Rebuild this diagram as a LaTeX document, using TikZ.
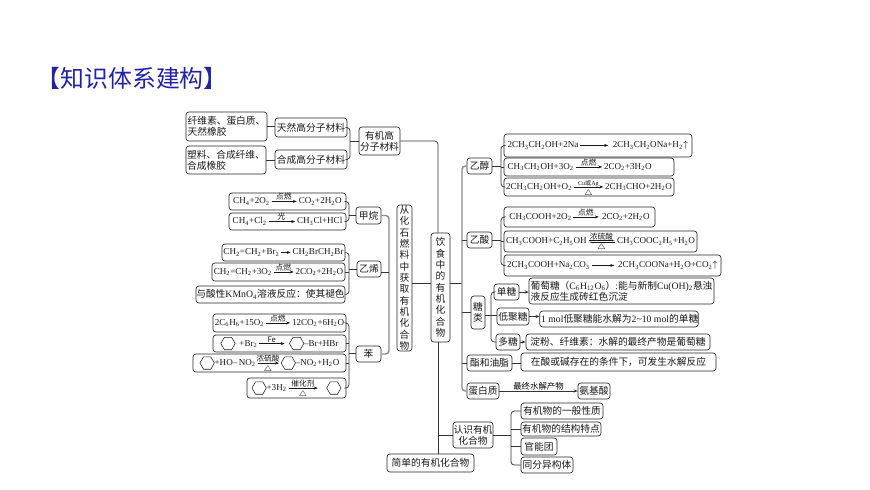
\documentclass[tikz,border=0pt]{standalone}
\usepackage{fontspec}
\setmainfont{Liberation Serif}
\newfontfamily\cjk{Noto Sans CJK SC}
\usetikzlibrary{arrows.meta}
\newcommand{\dn}[1]{\textsubscript{#1}}
\newcommand{\tri}{$\triangle$}
\newcommand{\lblfont}{\fontsize{5.8}{6}\selectfont\cjk}
% reaction arrow: length, text above, text below
\newcommand{\rxn}[3]{\hspace{1.2pt}\rlap{\hbox to #1pt{\hss\raisebox{3pt}[0pt][0pt]{\lblfont #2}\hss}}\rlap{\hbox to #1pt{\hss\raisebox{-4.3pt}[0pt][0pt]{\lblfont #3}\hss}}\tikz[baseline=-1.8pt]\draw[sharp corners,line width=.4pt,-{Stealth[length=3pt,width=2.2pt]}] (0pt,0pt) -- (#1pt,0pt);\hspace{1.2pt}}
\newcommand{\rvs}[3]{\hspace{1.2pt}\rlap{\hbox to #1pt{\hss\raisebox{3.2pt}[0pt][0pt]{\lblfont #2}\hss}}\rlap{\hbox to #1pt{\hss\raisebox{-4.6pt}[0pt][0pt]{\lblfont #3}\hss}}\tikz[baseline=-1.8pt]{\draw[sharp corners,line width=.4pt,-{Stealth[harpoon,length=3pt,width=2pt]}] (0pt,.5pt) -- (#1pt,.5pt);\draw[sharp corners,line width=.4pt,-{Stealth[harpoon,length=3pt,width=2pt]}] (#1pt,-.5pt) -- (0pt,-.5pt);}\hspace{1.2pt}}
\newcommand{\benz}{\tikz[baseline=-0.6ex]\draw[sharp corners,line width=.4pt] (0:5.4pt) -- (60:5.4pt) -- (120:5.4pt) -- (180:5.4pt) -- (240:5.4pt) -- (300:5.4pt) -- cycle;}
\definecolor{titleblue}{HTML}{2222A8}
\tikzset{
  x=.75pt, y=-.75pt,
  bx/.style 2 args={draw=black!85, line width=.5pt, rounded corners=2.2pt, inner sep=0pt, align=center,
    text=black!90, minimum width=#1*.75pt, minimum height=#2*.75pt,
    font=\cjk\fontsize{7.3}{8.5}\selectfont},
  eq/.style={font=\rmfamily\fontsize{6.8}{8.5}\selectfont},
  link/.style={draw=black!80, line width=.55pt, rounded corners=2.5pt},
  barline/.style={draw=black!45, line width=1.1pt, rounded corners=2.5pt},
  arr/.style={link, -{Stealth[length=3pt,width=2.4pt]}}
}
\begin{document}
\begin{tikzpicture}
\useasboundingbox (0,0) rectangle (870,489);
\node[anchor=west, inner sep=0pt, text=titleblue, font=\cjk\fontsize{17.9}{19}\selectfont] (title) at (36.4,78) {【知识体系建构】};
% upper left
\node[bx={81}{29},align=left] (xianwei) at (226.5,126.5) {纤维素、蛋白质、\\天然橡胶};
\node[bx={80}{28},align=left] (suliao) at (226,160) {塑料、合成纤维、\\合成橡胶};
\node[bx={72}{19}] (tianran) at (311,127.5) {天然高分子材料};
\node[bx={72}{19}] (hecheng) at (311,159.5) {合成高分子材料};
\node[bx={41}{28}] (youji) at (379.5,141) {有机高\\分子材料};
% centre
\node[bx={19}{109}] (yinshi) at (440.5,287.5) {饮\\食\\中\\的\\有\\机\\化\\合\\物};
\node[bx={15}{146}] (congh) at (404.5,278) {从\\化\\石\\燃\\料\\中\\获\\取\\有\\机\\化\\合\\物};
\node[bx={87}{18}] (jiandan) at (430.5,463) {简单的有机化合物};
\node[bx={40}{26}] (renshi) at (473,435) {认识有机\\化合物};
% hydrocarbons
\node[bx={25}{17}] (jiawan) at (368.5,215.5) {甲烷};
\node[bx={24}{16}] (yixi) at (369,269) {乙烯};
\node[bx={25}{16}] (ben) at (368.5,354) {苯};
\node[bx={117}{17},eq] (cc1) at (287.5,201.5) {CH\dn{4}+2O\dn{2}\rxn{19}{点燃}{}CO\dn{2}+2H\dn{2}O};
\node[bx={117}{17},eq] (cc2) at (287.5,221.5) {CH\dn{4}+Cl\dn{2}\rxn{20}{光}{}CH\dn{3}Cl+HCl};
\node[bx={123}{17},eq] (dd1) at (283.5,252.5) {CH\dn{2}=CH\dn{2}+Br\dn{2}\rxn{7}{}{}CH\dn{2}BrCH\dn{2}Br};
\node[bx={133}{18},eq] (dd2) at (278.5,272) {CH\dn{2}=CH\dn{2}+3O\dn{2}\rxn{15}{点燃}{}2CO\dn{2}+2H\dn{2}O};
\node[bx={149}{17}] (dd3) at (270.5,294.5) {与酸性{\rmfamily KMnO\dn{4}}溶液反应：使其褪色};
\node[bx={133}{18},eq] (ee1) at (279.5,323) {2C\dn{6}H\dn{6}+15O\dn{2}\rxn{18}{点燃}{}12CO\dn{2}+6H\dn{2}O};
\node[bx={133}{17},eq] (ee2) at (279.5,343.5) {\benz\hspace{3pt}+Br\dn{2}\rxn{19}{Fe}{}\hspace{2pt}\benz{}--Br+HBr};
\node[bx={153}{18},eq] (ee3) at (269.5,363) {\benz+HO--\,NO\dn{2}\rxn{16}{浓硫酸}{\tri}\benz{}--NO\dn{2}+H\dn{2}O};
\node[bx={99}{20},eq] (ee4) at (296.5,388) {\benz+3H\dn{2}\rxn{22}{催化剂}{\tri}\hspace{5pt}\benz};
% right branches
\node[bx={25}{16}] (yichun) at (479.5,166) {乙醇};
\node[bx={25}{16}] (yisuan) at (479.5,240) {乙酸};
\node[bx={14}{33}] (tanglei) at (478,312.5) {糖\\类};
\node[bx={45}{16}] (zhi) at (489.5,363) {酯和油脂};
\node[bx={32}{16}] (danbai) at (483,391) {蛋白质};
\node[bx={32}{16}] (anji) at (594,391) {氨基酸};
\node[bx={188}{23},eq] (aa1) at (598,145.5) {2CH\dn{3}CH\dn{2}OH+2Na\rxn{21}{}{}\hspace{2pt}2CH\dn{3}CH\dn{2}ONa+H\dn{2}$\uparrow$};
\node[bx={170}{18},eq] (aa2) at (589,167) {CH\dn{3}CH\dn{2}OH+3O\dn{2}\rxn{20}{点燃}{}2CO\dn{2}+3H\dn{2}O\hspace*{14pt}};
\node[bx={170}{18},eq] (aa3) at (589,187) {2CH\dn{3}CH\dn{2}OH+O\dn{2}\rxn{22}{{\fontsize{4.6}{5}\selectfont\rmfamily Cu\cjk 或\rmfamily Ag}}{\tri}2CH\dn{3}CHO+2H\dn{2}O};
\node[bx={151}{20},eq] (bb1) at (579.5,217) {CH\dn{3}COOH+2O\dn{2}\rxn{19}{点燃}{}\hspace{1pt}2CO\dn{2}+2H\dn{2}O};
\node[bx={193}{21},eq] (bb2) at (600.5,241.5) {CH\dn{3}COOH+C\dn{2}H\dn{5}OH\rvs{20}{浓硫酸}{\tri}CH\dn{3}COOC\dn{2}H\dn{5}+H\dn{2}O};
\node[bx={217}{21},eq] (bb3) at (612.5,265.5) {2CH\dn{3}COOH+Na\dn{2}CO\dn{3}\rxn{17}{}{}\hspace{1.5pt}2CH\dn{3}COONa+H\dn{2}O+CO\dn{2}$\uparrow$};
% sugars
\node[bx={25}{16}] (dantang) at (506.5,292) {单糖};
\node[bx={32}{17}] (diju) at (513,316.5) {低聚糖};
\node[bx={24}{16}] (duotang) at (508,342) {多糖};
\node[bx={185}{26},align=left] (putao) at (621.5,291) {葡萄糖（{\rmfamily C\dn{6}H\dn{12}O\dn{6}}）{\rmfamily :}能与新制{\rmfamily Cu(OH)\dn{2}}悬浊\\液反应生成砖红色沉淀};
\node[bx={158}{16}] (dijie) at (619,319) {\hspace*{1pt}{\rmfamily 1 mol}低聚糖能水解为{\rmfamily 2\textasciitilde10 mol}的单糖};
\node[bx={184}{16}] (dianfen) at (618,342) {淀粉、纤维素：水解的最终产物是葡萄糖};
\node[bx={195}{18}] (shuijie) at (618.5,362) {在酸或碱存在的条件下，可发生水解反应};
% lower right
\node[bx={82}{16}] (yiban) at (562,411) {有机物的一般性质};
\node[bx={80}{14}] (jiegou) at (561,429) {有机物的结构特点};
\node[bx={36}{17}] (guanneng) at (539,446.5) {官能团};
\node[bx={52}{16}] (tongfen) at (547,465) {同分异构体};
\coordinate (br1) at (350,141);
\coordinate (br2) at (349,215.5);
\coordinate (br3) at (349,269);
\coordinate (br4) at (349,353);
\coordinate (br5) at (389,272);
\coordinate (br6) at (501,166);
\coordinate (br7) at (501,240);
\coordinate (br8) at (491,315);
\coordinate (br9) at (511,435);
\coordinate (mid) at (421,283);
\coordinate (stem) at (438,300);
\coordinate (bar) at (462,283);
\draw[link] (xianwei.east) -- (xianwei.east -| tianran.west);
\draw[link] (suliao.east) -- (suliao.east -| hecheng.west);
\draw[link] (tianran.east) -| (br1) |- (hecheng.east);
\draw[link] (br1) -- (youji.west);
\draw[link] (youji.east) -| (stem |- yinshi.north);
\draw[link] (stem |- yinshi.south) -- (stem |- jiandan.north);
\draw[link] (stem |- renshi.west) -- (renshi.west);
\draw[link] (mid -| congh.east) -- (mid -| yinshi.west);
\draw[link] (mid -| yinshi.east) -- (bar);
\draw[link] (cc1.east) -| (br2) |- (cc2.east);
\draw[link] (br2) -- (jiawan.west);
\draw[link] (dd1.east) -| (br3) |- (dd3.east);
\draw[link] (dd2.east) -- (br3 |- dd2.east);
\draw[link] (br3) -- (yixi.west);
\draw[link] (ee1.east) -| (br4) |- (ee4.east);
\draw[link] (ee2.east) -- (br4 |- ee2.east);
\draw[link] (ee3.east) -- (br4 |- ee3.east);
\draw[link] (br4) -- (ben.west |- br4);
\draw[barline] (jiawan.east) -| (br5) |- (ben.east);
\draw[link] (yixi.east |- br5) -- (br5);
\draw[barline] (yichun.west) -| (bar) |- (danbai.west);
\draw[link] (yisuan.west) -- (yisuan.west -| bar);
\draw[link] (tanglei.west) -- (tanglei.west -| bar);
\draw[link] (zhi.west) -- (zhi.west -| bar);
\draw[link] (yichun.east) -- (yichun.east -| br6);
\draw[link] (aa1.west) -| (br6) |- (aa3.west);
\draw[link] (aa2.west) -- (aa2.west -| br6);
\draw[link] (yisuan.east) -- (yisuan.east -| br7);
\draw[link] (bb1.west) -| (br7) |- (bb3.west);
\draw[link] (bb2.west) -- (bb2.west -| br7);
\draw[link] (br8 -| tanglei.east) -- (br8 -| diju.west);
\draw[link] (dantang.west) -| (br8) |- (duotang.west);
\draw[arr] (dantang.east) -- (dantang.east -| putao.west);
\draw[arr] (diju.east) -- (diju.east -| dijie.west);
\draw[arr] (duotang.east) -- (duotang.east -| dianfen.west);
\draw[link] (zhi.east) -- (zhi.east -| shuijie.west);
\draw[arr] (danbai.east) -- node[above=.6pt, inner sep=0pt, font=\cjk\fontsize{6.3}{7}\selectfont] (zuizhong) {最终水解产物} (anji.west);
\draw[link] (renshi.east) -- (renshi.east -| br9);
\draw[link] (yiban.west) -| (br9) |- (tongfen.west);
\draw[link] (jiegou.west) -- (jiegou.west -| br9);
\draw[link] (guanneng.west) -- (guanneng.west -| br9);
\end{tikzpicture}
\end{document}
